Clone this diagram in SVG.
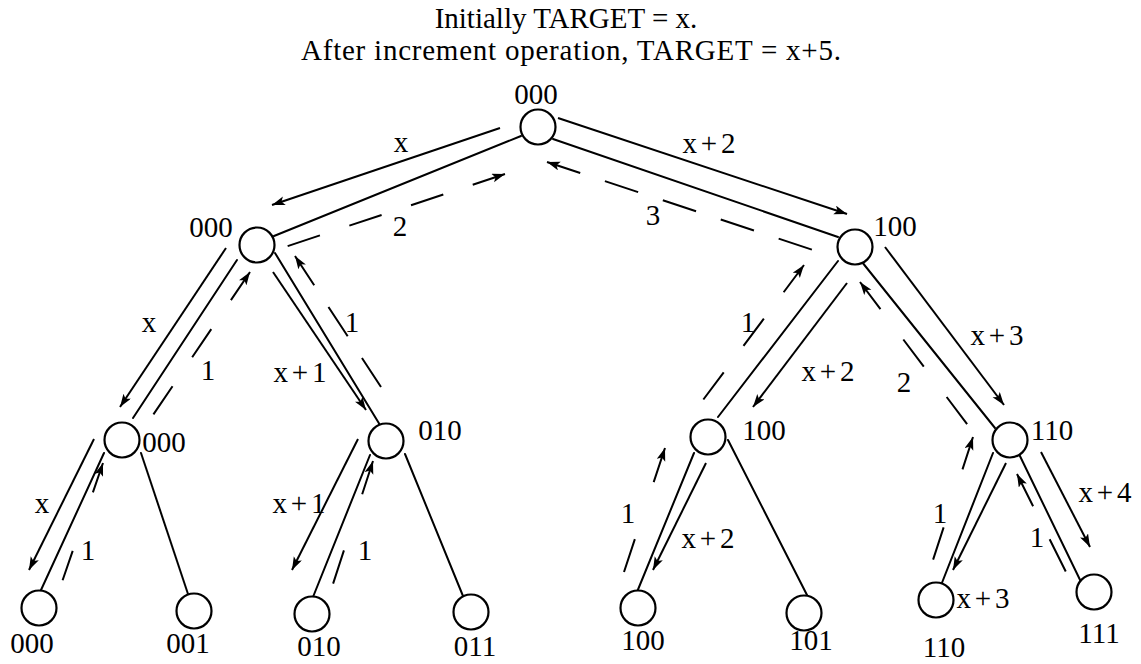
<svg xmlns="http://www.w3.org/2000/svg" width="1141" height="664" viewBox="0 0 1141 664">
<style>
text{font-family:"Liberation Serif","Times New Roman",serif;font-size:29px;fill:#000}
.c{text-anchor:middle}
.node circle{fill:#fff;stroke:#000;stroke-width:2.2}
.e{stroke:#000;stroke-width:2;fill:none;stroke-linecap:round}
.a{stroke:#000;stroke-width:2;fill:none;marker-end:url(#ah)}
.d{stroke:#000;stroke-width:2;fill:none;marker-start:url(#ah)}
</style>
<defs>
<marker id="ah" markerUnits="userSpaceOnUse" markerWidth="14" markerHeight="10" refX="13" refY="4.5" orient="auto-start-reverse">
<path d="M0,0 L13,4.5 L0,9 L3,4.5 z" fill="#000"/>
</marker>
</defs>
<rect width="1141" height="664" fill="#fff"/>
<g id="title">
<text class="c" x="566" y="28">Initially TARGET = x.</text>
<text class="c" x="571" y="60" textLength="540" lengthAdjust="spacing">After increment operation, TARGET = x+5.</text>
</g>
<g id="connectors">
<line class="e" x1="521" y1="136" x2="274" y2="236"/>
<line class="e" x1="553" y1="139" x2="838" y2="237"/>
<line class="e" x1="237" y1="260" x2="133" y2="418"/>
<line class="e" x1="275" y1="253" x2="380" y2="425"/>
<line class="e" x1="104" y1="453" x2="41" y2="590"/>
<line class="e" x1="141" y1="453" x2="188" y2="594"/>
<line class="e" x1="370" y1="455" x2="313" y2="597"/>
<line class="e" x1="405" y1="454" x2="463" y2="596"/>
<line class="e" x1="838" y1="261" x2="718" y2="417"/>
<line class="e" x1="862" y1="262" x2="995" y2="428"/>
<line class="e" x1="694" y1="453" x2="637" y2="592"/>
<line class="e" x1="728" y1="440" x2="807" y2="595"/>
<line class="e" x1="993" y1="453" x2="936" y2="598"/>
<line class="e" x1="1018" y1="452" x2="1083" y2="586"/>
<line class="a" x1="500" y1="128" x2="272" y2="205"/>
<line class="a" x1="558" y1="118" x2="847" y2="214"/>
<line class="a" x1="226" y1="248" x2="120" y2="407"/>
<line class="a" x1="273" y1="272" x2="366" y2="410"/>
<line class="a" x1="94" y1="439" x2="29" y2="570"/>
<line class="a" x1="358" y1="439" x2="292" y2="570"/>
<line class="a" x1="847" y1="283" x2="753" y2="407"/>
<line class="a" x1="706" y1="463" x2="653" y2="570"/>
<line class="a" x1="885" y1="247" x2="1004" y2="405"/>
<line class="a" x1="1006" y1="463" x2="953" y2="570"/>
<line class="a" x1="1041" y1="452" x2="1090" y2="547"/>
<line class="d" x1="505" y1="174" x2="285" y2="247" stroke-dasharray="34 31"/>
<line class="d" x1="547" y1="162" x2="813" y2="250" stroke-dasharray="35 26"/>
<line class="d" x1="250" y1="272" x2="153" y2="415" stroke-dasharray="34 35"/>
<line class="d" x1="295" y1="256" x2="381" y2="387" stroke-dasharray="35 26"/>
<line class="d" x1="103" y1="463" x2="62" y2="582" stroke-dasharray="31 62"/>
<line class="d" x1="373" y1="461" x2="333" y2="584" stroke-dasharray="35 59"/>
<line class="d" x1="804" y1="265" x2="703" y2="400" stroke-dasharray="34 33"/>
<line class="d" x1="665" y1="448" x2="624" y2="572" stroke-dasharray="36 60"/>
<line class="d" x1="860" y1="282" x2="970" y2="428" stroke-dasharray="34 38"/>
<line class="d" x1="973" y1="437" x2="933" y2="560" stroke-dasharray="34 61"/>
<line class="d" x1="1017" y1="474" x2="1066" y2="572" stroke-dasharray="36 37"/>
</g>
<g id="edge-labels">
<text class="c" x="401" y="152">x</text>
<text class="c" x="400" y="236">2</text>
<text class="c" x="709" y="153" textLength="53">x+2</text>
<text class="c" x="653" y="225">3</text>
<text class="c" x="149" y="332">x</text>
<text class="c" x="208" y="380">1</text>
<text class="c" x="300" y="382" textLength="53">x+1</text>
<text class="c" x="352" y="332">1</text>
<text class="c" x="42" y="513">x</text>
<text class="c" x="88" y="560">1</text>
<text class="c" x="299" y="513" textLength="53">x+1</text>
<text class="c" x="365" y="560">1</text>
<text class="c" x="748" y="332">1</text>
<text class="c" x="828" y="381" textLength="53">x+2</text>
<text class="c" x="628" y="523">1</text>
<text class="c" x="708" y="548" textLength="53">x+2</text>
<text class="c" x="997" y="345" textLength="53">x+3</text>
<text class="c" x="904" y="392">2</text>
<text class="c" x="940" y="523">1</text>
<text class="c" x="983" y="608" textLength="53">x+3</text>
<text class="c" x="1105" y="502" textLength="53">x+4</text>
<text class="c" x="1037" y="547">1</text>
</g>
<g id="n-root" class="node"><circle cx="538" cy="127" r="17.5"/><text class="c" x="536" y="104">000</text></g>
<g id="n-0" class="node"><circle cx="257" cy="245" r="17.5"/><text class="c" x="211" y="237">000</text></g>
<g id="n-1" class="node"><circle cx="855" cy="247" r="17.5"/><text class="c" x="895" y="236">100</text></g>
<g id="n-00" class="node"><circle cx="122" cy="440" r="17.5"/><text class="c" x="164" y="452">000</text></g>
<g id="n-01" class="node"><circle cx="386" cy="441" r="17.5"/><text class="c" x="440" y="440">010</text></g>
<g id="n-10" class="node"><circle cx="708" cy="437" r="17.5"/><text class="c" x="764" y="440">100</text></g>
<g id="n-11" class="node"><circle cx="1010" cy="440" r="17.5"/><text class="c" x="1052" y="440">110</text></g>
<g id="n-000" class="node"><circle cx="39" cy="608" r="17.5"/><text class="c" x="32" y="653">000</text></g>
<g id="n-001" class="node"><circle cx="194" cy="611" r="17.5"/><text class="c" x="188" y="653">001</text></g>
<g id="n-010" class="node"><circle cx="312" cy="614" r="17.5"/><text class="c" x="319" y="656">010</text></g>
<g id="n-011" class="node"><circle cx="471" cy="612" r="17.5"/><text class="c" x="475" y="656">011</text></g>
<g id="n-100" class="node"><circle cx="638" cy="608" r="17.5"/><text class="c" x="643" y="650">100</text></g>
<g id="n-101" class="node"><circle cx="804" cy="613" r="17.5"/><text class="c" x="811" y="650">101</text></g>
<g id="n-110" class="node"><circle cx="936" cy="600" r="17.5"/><text class="c" x="944" y="657">110</text></g>
<g id="n-111" class="node"><circle cx="1094" cy="592" r="17.5"/><text class="c" x="1099" y="643">111</text></g>
</svg>
